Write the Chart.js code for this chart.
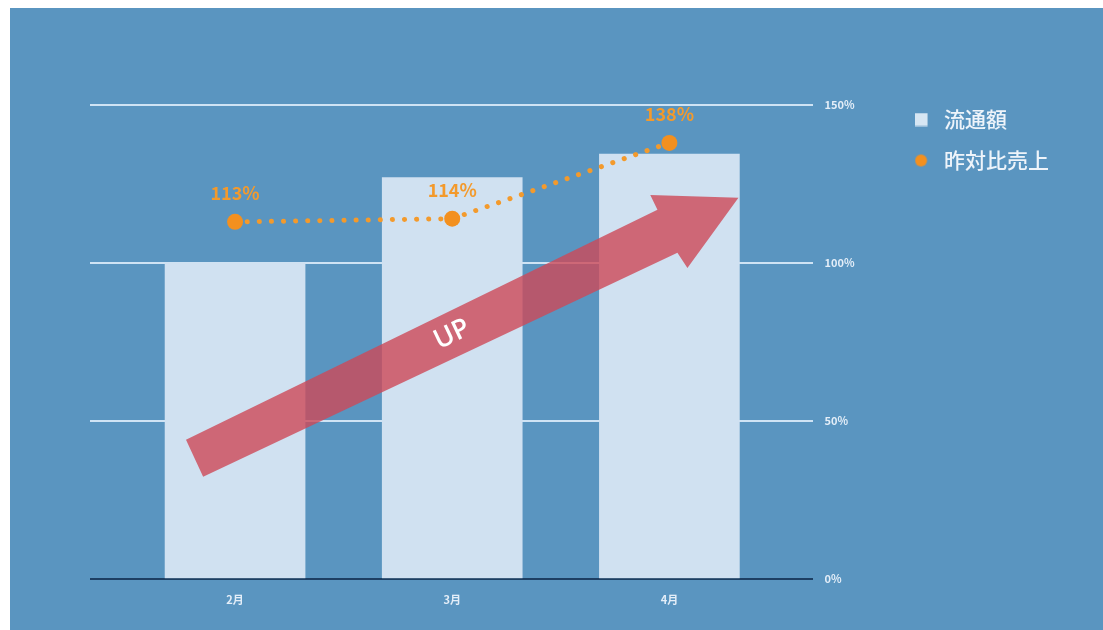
<!DOCTYPE html>
<html>
<head>
<meta charset="utf-8">
<script src="https://cdn.jsdelivr.net/npm/chart.js@4.4.1/dist/chart.umd.min.js"></script>
<style>
  html, body { margin: 0; background: #fff; }
  #wrap { position: absolute; left: 10px; top: 8px; width: 1093px; height: 622px; background: #5a95c0; }
</style>
</head>
<body>
<div id="wrap"><canvas id="chart"></canvas></div>
<script>
const categories  = ["2月", "3月", "4月"];
const salesValues = [100, 127, 134.5];   // 流通額 (bars, read on the % axis)
const yoyValues   = [113, 114, 138];     // 昨対比売上 (%)
const yTicks      = [0, 50, 100, 150];

const FONT = "'Noto Sans CJK JP', 'Noto Sans', sans-serif";

// legend markers: shape on the left of a wider box, to leave a larger gap before the text
function legendMarker(kind, color) {
  const c = document.createElement("canvas");
  c.width = 19; c.height = 14;
  const g = c.getContext("2d");
  g.fillStyle = color;
  if (kind === "rect") {
    g.fillRect(0, 0.5, 13, 13);
  } else {
    g.beginPath(); g.arc(6.5, 7, 6, 0, Math.PI * 2); g.fill();
  }
  return c;
}

// big "UP" arrow, defined in axis units so it follows the scales
const arrowShape = [
  [-0.226, 44.0], [1.945, 116.8], [1.912, 121.5], [2.318, 120.6],
  [2.083, 98.4], [2.037, 103.2], [-0.147, 32.3],
];

const arrowPlugin = {
  id: "upArrow",
  afterDatasetsDraw(chart) {
    const { ctx, scales: { x, y } } = chart;
    ctx.save();
    ctx.beginPath();
    arrowShape.forEach(([vx, vy], i) => {
      const px = x.getPixelForValue(vx), py = y.getPixelForValue(vy);
      i ? ctx.lineTo(px, py) : ctx.moveTo(px, py);
    });
    ctx.closePath();
    ctx.fillStyle = "rgba(205, 72, 88, 0.8)";
    ctx.fill();

    // "UP" along the shaft
    const x0 = x.getPixelForValue(-0.186), y0 = y.getPixelForValue(38.2);
    const x1 = x.getPixelForValue(1.99),   y1 = y.getPixelForValue(110);
    const ang = Math.atan2(y1 - y0, x1 - x0);
    const t = 0.545;
    ctx.translate(x0 + (x1 - x0) * t, y0 + (y1 - y0) * t);
    ctx.rotate(ang);
    ctx.fillStyle = "#fff";
    ctx.font = "600 27px 'Open Sans', sans-serif";
    ctx.textAlign = "center";
    ctx.textBaseline = "middle";
    ctx.fillText("UP", 0, 0);
    ctx.restore();
  },
};

const valueLabels = {
  id: "valueLabels",
  afterDatasetsDraw(chart) {
    const { ctx } = chart;
    const meta = chart.getDatasetMeta(1);
    ctx.save();
    ctx.fillStyle = "#f39a2c";
    ctx.font = "bold 18px " + FONT;
    ctx.textAlign = "center";
    ctx.textBaseline = "middle";
    meta.data.forEach((pt, i) => {
      ctx.fillText(yoyValues[i] + "%", pt.x, pt.y - 29);
    });
    ctx.restore();
  },
};

// lift the legend a little so it sits level with the top gridline
const legendNudge = {
  id: "legendNudge",
  afterLayout(chart) {
    if (chart.legend) { chart.legend.top -= 16; chart.legend.bottom -= 16; }
  },
};

new Chart(document.getElementById("chart"), {
  type: "bar",
  data: {
    datasets: [
      {
        label: "流通額",
        data: salesValues.map((v, i) => ({ x: i, y: v })),
        backgroundColor: "#d0e1f1",
        barThickness: 140,
        order: 1,
      },
      {
        type: "line",
        label: "昨対比売上",
        data: yoyValues.map((v, i) => ({ x: i, y: v })),
        borderColor: "#f39a2c",
        backgroundColor: "#f39a2c",
        borderWidth: 5,
        borderDash: [0.1, 12],
        borderCapStyle: "round",
        pointRadius: 8,
        pointHoverRadius: 8,
        pointBorderWidth: 0,
        pointBackgroundColor: "#f3901f",
        pointStyle: "circle",
        tension: 0,
        order: 0,
      },
    ],
  },
  options: {
    animation: false,
    responsive: true,
    maintainAspectRatio: false,
    layout: { padding: { top: 97, left: 80, right: 44, bottom: 18 } },
    scales: {
      x: {
        type: "linear",
        offset: false,
        min: -0.668,
        max: 2.659,
        afterBuildTicks: s => { s.ticks = categories.map((c, i) => ({ value: i })); },
        grid: { display: false, offset: false },
        border: { display: false },
        ticks: {
          callback: v => categories[v] ?? "",
          color: "#e4eef8",
          font: { family: FONT, size: 11, weight: "bold" },
          padding: 6,
          maxRotation: 0,
        },
      },
      y: {
        position: "right",
        min: 0,
        max: 150,
        afterBuildTicks: s => { s.ticks = yTicks.map(v => ({ value: v })); },
        afterFit: s => { s.width = 82; },
        grid: {
          drawTicks: false,
          lineWidth: 2,
          color: c => (c.tick && c.tick.value === 0 ? "#1d3f63" : "#cfe3f4"),
        },
        border: { display: false },
        ticks: {
          callback: v => v + "%",
          color: "#e4eef8",
          font: { family: FONT, size: 11, weight: "bold" },
          padding: 12,
        },
      },
    },
    plugins: {
      legend: {
        position: "right",
        align: "start",
        labels: {
          usePointStyle: true,
          pointStyleWidth: 19,
          boxWidth: 19,
          boxHeight: 14,
          padding: 20,
          color: "#eef4fa",
          font: { family: FONT, size: 21, weight: "500" },
          sort: (a, b) => a.datasetIndex - b.datasetIndex,
          generateLabels: chart => {
            const items = Chart.defaults.plugins.legend.labels.generateLabels(chart);
            items.forEach(it => {
              const bar = it.datasetIndex === 0;
              it.lineWidth = 0;
              it.lineDash = [];
              it.pointStyle = bar ? legendMarker("rect", "#d6e6f3") : legendMarker("circle", "#f3901f");
            });
            return items;
          },
        },
      },
      tooltip: { enabled: false },
    },
  },
  plugins: [arrowPlugin, valueLabels, legendNudge],
});
</script>
</body>
</html>
